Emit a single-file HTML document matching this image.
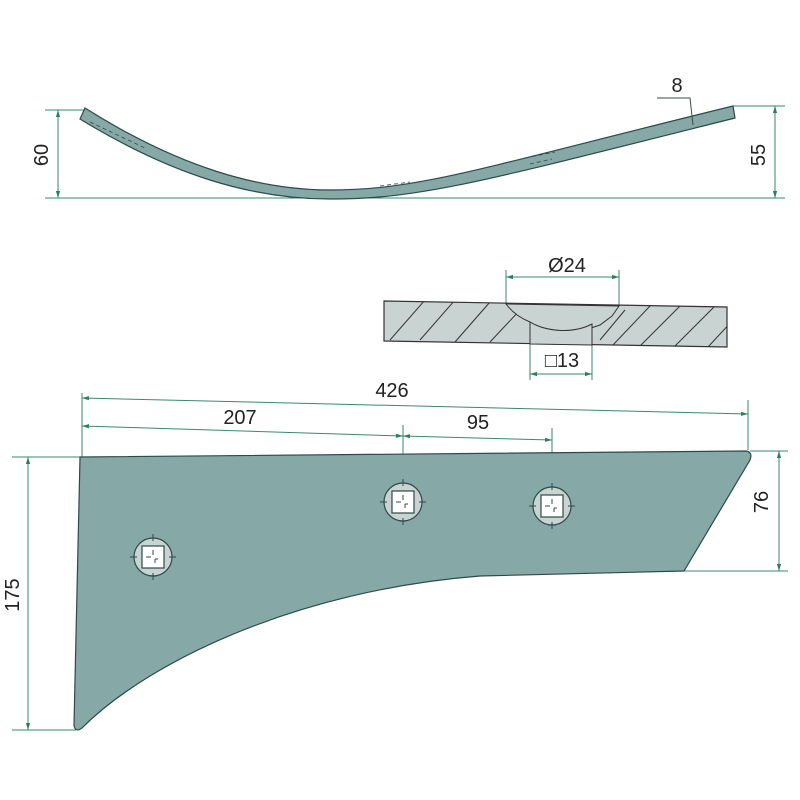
<!DOCTYPE html>
<html><head><meta charset="utf-8"><style>html,body{margin:0;padding:0;background:#fff}svg{display:block}</style></head>
<body>
<svg width="800" height="800" viewBox="0 0 800 800" xmlns="http://www.w3.org/2000/svg" font-family="Liberation Sans, sans-serif">
<defs>
<marker id="a" viewBox="0 0 10 10" refX="10" refY="5" markerWidth="7" markerHeight="7" orient="auto-start-reverse"><path d="M0,2 L10,5 L0,8 z" fill="#2e7d5e"/></marker>
<clipPath id="sec"><polygon points="384,301 727,307 727,347 384,341"/></clipPath>
</defs>
<g stroke="#3a8a6a" stroke-width="1" fill="none">
<line x1="45" y1="110" x2="88" y2="110"/>
<line x1="45" y1="198" x2="785" y2="198"/>
<line x1="58" y1="110" x2="58" y2="198" marker-start="url(#a)" marker-end="url(#a)"/>
<line x1="733" y1="106" x2="785" y2="106"/>
<line x1="775" y1="106" x2="775" y2="198" marker-start="url(#a)" marker-end="url(#a)"/>
<line x1="506" y1="270" x2="506" y2="305"/>
<line x1="619" y1="270" x2="619" y2="308"/>
<line x1="506" y1="277" x2="619" y2="277" marker-start="url(#a)" marker-end="url(#a)"/>
<line x1="530" y1="344" x2="530" y2="380"/>
<line x1="592" y1="344" x2="592" y2="380"/>
<line x1="530" y1="374" x2="592" y2="374" marker-start="url(#a)" marker-end="url(#a)"/>
<line x1="82" y1="393" x2="82" y2="457"/>
<line x1="403" y1="425" x2="403" y2="495"/>
<line x1="552" y1="428" x2="552" y2="490"/>
<line x1="748" y1="400" x2="748" y2="450"/>
<line x1="82" y1="398" x2="748" y2="414" marker-start="url(#a)" marker-end="url(#a)"/>
<line x1="82" y1="426" x2="403" y2="436" marker-start="url(#a)" marker-end="url(#a)"/>
<line x1="403" y1="436" x2="552" y2="440" marker-start="url(#a)" marker-end="url(#a)"/>
<line x1="12" y1="457" x2="80" y2="457"/>
<line x1="12" y1="730" x2="76" y2="730"/>
<line x1="28" y1="457" x2="28" y2="730" marker-start="url(#a)" marker-end="url(#a)"/>
<line x1="750" y1="451" x2="788" y2="451"/>
<line x1="684" y1="571" x2="788" y2="571"/>
<line x1="779" y1="451" x2="779" y2="571" marker-start="url(#a)" marker-end="url(#a)"/>
</g>
<path d="M85,108 C180,168 260,190 330,190 C420,190 480,168 733,106 L735,118 C480,182 420,199 330,199 C250,199 170,174 80,119 Z" fill="#86a8a6" stroke="#2c4a4a" stroke-width="1.2"/>
<g stroke="#2c4a4a" stroke-width="0.8" fill="none" stroke-dasharray="4,3">
<path d="M90,122 L145,148 M380,186 L410,182 M525,158 L555,152 M530,164 L552,159"/>
</g>
<polyline points="657,98 690,98 693,125" fill="none" stroke="#3a4a4a" stroke-width="1"/>
<polygon points="384,301 727,307 727,347 384,341" fill="#c9d3d1" stroke="#333" stroke-width="1.2"/>
<g clip-path="url(#sec)" stroke="#333" stroke-width="1">
<path d="M390,340 L425,300 M420,340 L455,300 M455,342 L490,302 M490,342 L520,310 M640,346 L680,306 M675,346 L715,306 M708,347 L745,307 M612,346 L650,306 M600,340 L625,310"/>
</g>
<path d="M506,304 L619,306 L612,316 L600,325 C580,333 548,333 530,322 C520,318 512,312 506,304 Z" fill="#c9d3d1" stroke="#333" stroke-width="1"/>
<path d="M530,322 L530,344 L592,345 L592,324 C575,333 548,333 530,322 Z" fill="#c9d3d1" stroke="#333" stroke-width="1"/>
<path d="M80,457 L746,451 Q753,452 750,460 L684,571 L480,576 C300,590 150,660 82,728 Q75,733 74,725 Z" fill="#86a8a6" stroke="#2c4a4a" stroke-width="1.2"/>
<g stroke="#2c4a4a" stroke-width="1.2">
<g transform="translate(153,557)"><circle r="19" fill="#c9d3d1"/><rect x="-11" y="-11" width="22" height="22" fill="#fff"/><path d="M-23,0 H-16 M16,0 H23 M0,-23 V-16 M0,16 V23 M-7,0 H-2 M0,-7 V-2 M2,2 H5 M2,2 V6" stroke-width="1"/></g>
<g transform="translate(403,502)"><circle r="19" fill="#c9d3d1"/><rect x="-11" y="-11" width="22" height="22" fill="#fff"/><path d="M-23,0 H-16 M16,0 H23 M0,-23 V-16 M0,16 V23 M-7,0 H-2 M0,-7 V-2 M2,2 H5 M2,2 V6" stroke-width="1"/></g>
<g transform="translate(552,506)"><circle r="19" fill="#c9d3d1"/><rect x="-11" y="-11" width="22" height="22" fill="#fff"/><path d="M-23,0 H-16 M16,0 H23 M0,-23 V-16 M0,16 V23 M-7,0 H-2 M0,-7 V-2 M2,2 H5 M2,2 V6" stroke-width="1"/></g>
</g>
<g fill="#222" font-size="20">
<text x="48" y="155" transform="rotate(-90 48 155)" text-anchor="middle">60</text>
<text x="765" y="155" transform="rotate(-90 765 155)" text-anchor="middle">55</text>
<text x="677" y="92" text-anchor="middle">8</text>
<text x="567" y="272" text-anchor="middle">Ø24</text>
<text x="562" y="367" text-anchor="middle">□13</text>
<text x="392" y="397" text-anchor="middle">426</text>
<text x="240" y="424" text-anchor="middle">207</text>
<text x="478" y="429" text-anchor="middle">95</text>
<text x="19" y="595" transform="rotate(-90 19 595)" text-anchor="middle">175</text>
<text x="768" y="502" transform="rotate(-90 768 502)" text-anchor="middle">76</text>
</g>
</svg>
</body></html>
